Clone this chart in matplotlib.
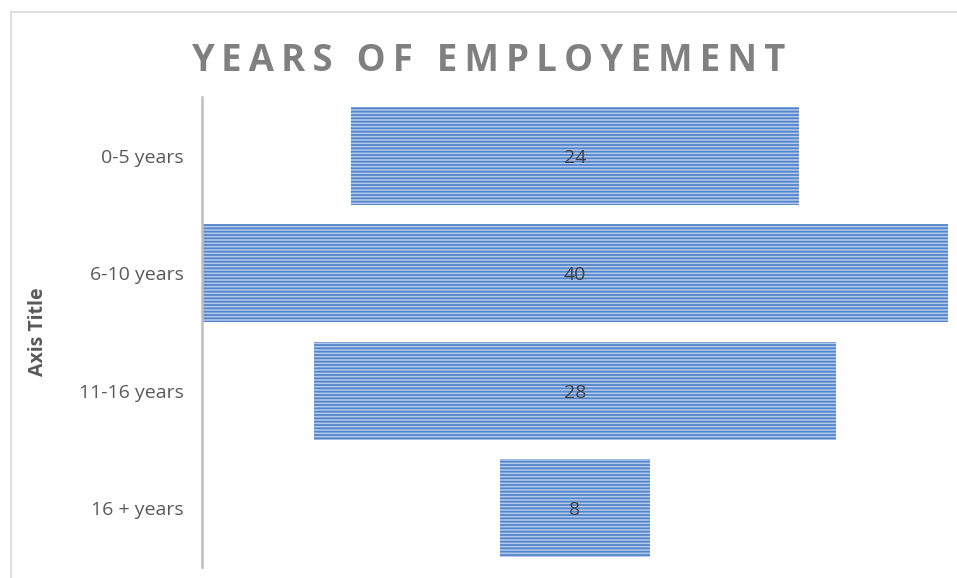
import matplotlib
matplotlib.use("Agg")
import matplotlib.pyplot as plt
from matplotlib.lines import Line2D

# datos
categories = ['0-5 years', '6-10 years', '11-16 years', '16 + years']
values = [24, 40, 28, 8]
title = 'YEARS OF EMPLOYEMENT'

plt.rcParams['font.family'] = ['Open Sans', 'DejaVu Sans']
plt.rcParams['hatch.linewidth'] = 1.3

fig = plt.figure(figsize=(9.57, 5.78), dpi=100)
W, H = 957, 578
ax = fig.add_axes([202 / W, 1 - 567 / H, (948 - 202) / W, 470 / H])

# barras centradas (embudo): desplazamiento invisible
vmax = max(values)
lefts = [(vmax - v) / 2 for v in values]
y = list(range(len(categories)))
ax.barh(y, values, left=lefts, height=0.835, color='#b3caee',
        edgecolor='#5585c9', linewidth=0, hatch='-----')

for yi, l, v in zip(y, lefts, values):
    ax.text(l + v / 2, yi, str(v), ha='center', va='center_baseline',
            fontsize=14, color='#404040')

ax.set_xlim(0, vmax)
ax.set_ylim(len(categories) - 0.5, -0.5)
ax.set_yticks(y)
ax.set_yticklabels(categories, fontsize=14, color='#595959')
ax.tick_params(axis='y', length=0, pad=13)
ax.set_xticks([])
for s in ['top', 'right', 'bottom']:
    ax.spines[s].set_visible(False)
ax.spines['left'].set_color('#bfbfbf')
ax.spines['left'].set_linewidth(1.8)

# titulo con espaciado
spaced = '\u2009'.join(title)
fig.text(488 / W, 1 - 71 / H, spaced, ha='center', va='baseline',
         fontsize=26.3, fontweight='bold', color='#808080')

fig.text(38 / W, 1 - 332 / H, 'Axis Title', rotation=90, ha='center',
         va='center', fontsize=14, fontweight='bold', color='#595959')

# borde del grafico
fig.add_artist(Line2D([10.5 / W, 10.5 / W], [0, 1 - 12 / H],
                      color='#d9d9d9', lw=1.2, transform=fig.transFigure))
fig.add_artist(Line2D([10.5 / W, 1], [1 - 12 / H, 1 - 12 / H],
                      color='#d9d9d9', lw=1.2, transform=fig.transFigure))

fig.savefig('out.png', dpi=100)
